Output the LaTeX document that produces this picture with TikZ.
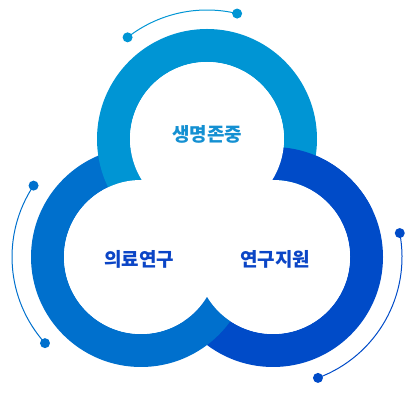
\documentclass[tikz,border=0pt]{standalone}
\usepackage{fontspec}
\newfontfamily\krfont{Noto Sans CJK KR}
\usepackage{xcolor}
\definecolor{ringtop}{HTML}{0095D4}
\definecolor{ringleft}{HTML}{0070CD}
\definecolor{ringright}{HTML}{004BC8}
\definecolor{labeltop}{HTML}{1490D2}
\definecolor{labeldark}{HTML}{0B45C6}

\begin{document}
\begin{tikzpicture}[x=1pt,y=1pt,
  ringlabel/.style={font=\krfont\bfseries\fontsize{19}{21}\selectfont},
  enddot/.style={circle,fill,inner sep=0pt,minimum size=10pt}]
  \useasboundingbox (0,0) rectangle (417,401);
  \coordinate (ctop) at (207,262);
  \coordinate (cleft) at (141,144);
  \coordinate (cright) at (273,144);

  \fill[ringright,even odd rule] (cright) circle (110pt) (cright) circle (77pt);
  \fill[ringleft,even odd rule] (cleft) circle (110pt) (cleft) circle (77pt);
  \fill[ringtop,even odd rule] (ctop) circle (110pt) (ctop) circle (77pt);
  \begin{scope}
    \clip (207,191) rectangle (417,401);
    \fill[ringright,even odd rule] (cright) circle (110pt) (cright) circle (77pt);
  \end{scope}
  \fill[white] (ctop) circle (77pt) (cleft) circle (77pt) (cright) circle (77pt)
    (207,184) circle (12pt);

  \node[ringlabel,labeltop] (ltop) at (207,267) {생명존중};
  \node[ringlabel,labeldark] (lleft) at (139,142) {의료연구};
  \node[ringlabel,labeldark] (lright) at (275,142) {연구지원};

  \path (ctop) ++(128:129pt) node[enddot,ringtop] (ta) {};
  \path (ctop) ++(76.5:129pt) node[enddot,ringtop] (tb) {};
  \draw[ringtop,line width=1pt] (ta.center) arc[start angle=128,end angle=76.5,radius=129pt];

  \path (cleft) ++(146.4:129pt) node[enddot,ringleft] (la) {};
  \path (cleft) ++(221.9:129pt) node[enddot,ringleft] (lb) {};
  \draw[ringleft,line width=1pt] (la.center) arc[start angle=146.4,end angle=221.9,radius=129pt];

  \path (cright) ++(10.7:129pt) node[enddot,ringright] (ra) {};
  \path (cright) ++(-69.6:129pt) node[enddot,ringright] (rb) {};
  \draw[ringright,line width=1pt] (ra.center) arc[start angle=10.7,end angle=-69.6,radius=129pt];
\end{tikzpicture}
\end{document}
